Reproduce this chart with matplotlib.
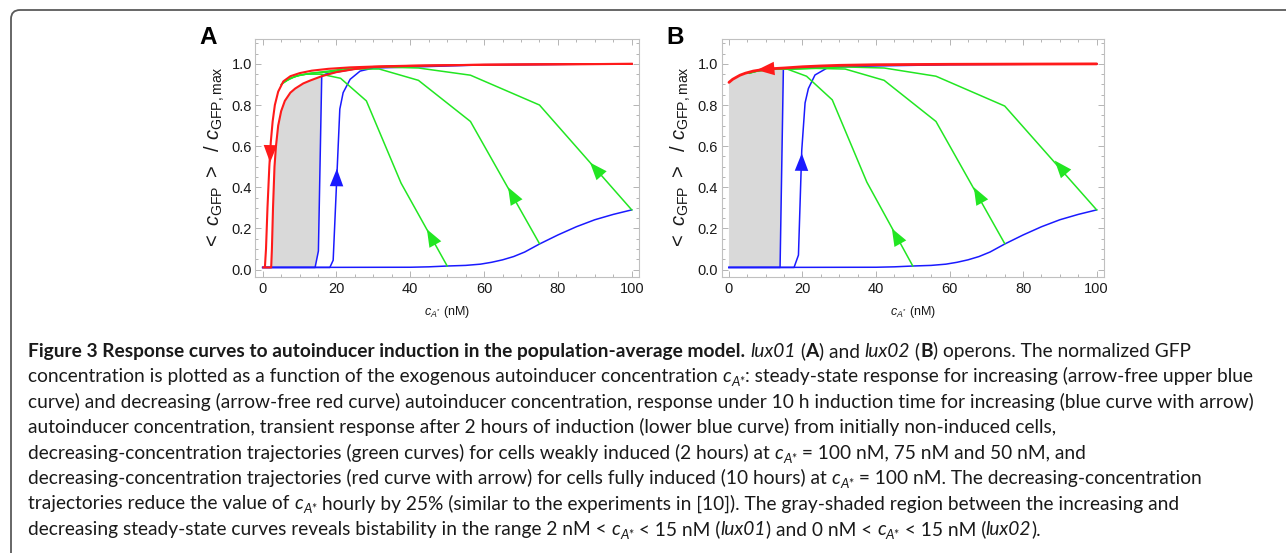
import numpy as np
import matplotlib.pyplot as plt
from matplotlib.patches import FancyBboxPatch
from matplotlib.transforms import IdentityTransform

plt.rcParams['font.family'] = 'Liberation Sans'
plt.rcParams['mathtext.fontset'] = 'custom'
plt.rcParams['mathtext.rm'] = 'Liberation Sans'
plt.rcParams['mathtext.it'] = 'Liberation Sans:italic'
plt.rcParams['mathtext.bf'] = 'Liberation Sans:bold'

W, H = 1286, 553

# ---- data: c_A* (nM) and <c_GFP>/c_GFP,max ----
# lower blue curve (2 h transient), same in both panels
low_x = [0, 40, 45, 50, 55, 59, 62, 65, 68, 71, 75, 80, 85, 90, 95, 100]
low_y = [0.01, 0.011, 0.013, 0.017, 0.02, 0.026, 0.035, 0.047, 0.063, 0.085, 0.124, 0.168, 0.208, 0.242, 0.268, 0.29]

# panel A (lux01)
a_red_out_x = [0.2, 0.6, 0.9, 1.3, 1.8, 2.2, 2.7, 3.3, 4.2, 5.6, 7.5, 10, 13.3, 17.8, 23.7, 31.6, 42.2, 56.3, 75, 100]
a_red_out_y = [0.01, 0.01, 0.1, 0.3, 0.5, 0.62, 0.72, 0.8, 0.865, 0.915, 0.94, 0.955, 0.967, 0.976, 0.983, 0.988, 0.992, 0.995, 0.998, 1.0]
a_red_in_x = [1.0, 2.3, 2.5, 2.8, 3.2, 3.6, 4.2, 5.0, 6.0, 7.5, 8.8, 11, 13, 16, 20, 25, 30, 40, 60, 100]
a_red_in_y = [0.01, 0.01, 0.1, 0.3, 0.5, 0.6, 0.7, 0.77, 0.82, 0.86, 0.88, 0.905, 0.92, 0.94, 0.96, 0.975, 0.985, 0.99, 0.996, 1.0]
a_blue_ss_x = [0, 14.2, 15.1, 16.0, 17, 20, 25, 30, 40, 60, 100]
a_blue_ss_y = [0.01, 0.01, 0.09, 0.94, 0.95, 0.96, 0.975, 0.985, 0.99, 0.996, 1.0]
a_blue_ar_x = [0, 18.2, 19.1, 20.9, 21.8, 23.7, 26.4, 30, 40.8, 60, 100]
a_blue_ar_y = [0.01, 0.01, 0.045, 0.78, 0.86, 0.925, 0.965, 0.98, 0.985, 0.995, 1.0]
a_g1_x = [100, 75, 56.3, 42.2, 31.6, 23.7, 17.8, 13.3, 10, 7.5, 5.6]
a_g1_y = [0.29, 0.80, 0.945, 0.98, 0.985, 0.98, 0.965, 0.955, 0.945, 0.93, 0.91]
a_g2_x = [75, 56.3, 42.2, 31.6, 23.7, 17.8, 13.3, 10, 7.5, 5.6]
a_g2_y = [0.126, 0.72, 0.92, 0.975, 0.975, 0.96, 0.955, 0.945, 0.93, 0.91]
a_g3_x = [50, 37.5, 28.1, 21.1, 15.8, 11.9, 8.9, 6.7, 5.0]
a_g3_y = [0.017, 0.42, 0.82, 0.93, 0.95, 0.95, 0.94, 0.92, 0.9]
a_gray_x = [2.3, 2.5, 2.8, 3.2, 3.6, 4.2, 5.0, 6.0, 7.5, 8.8, 11, 13, 16, 15.1, 14.2]
a_gray_y = [0.01, 0.1, 0.3, 0.5, 0.6, 0.7, 0.77, 0.82, 0.86, 0.88, 0.905, 0.92, 0.94, 0.09, 0.01]

# panel B (lux02)
b_red_x = [0, 1, 2, 3, 4.5, 6.6, 9, 12, 15, 20, 25, 30, 40, 60, 100]
b_red_y = [0.91, 0.925, 0.935, 0.945, 0.955, 0.965, 0.972, 0.977, 0.98, 0.986, 0.99, 0.993, 0.996, 0.998, 1.0]
b_blue_ss_x = [0, 13.9, 14.8, 20, 30, 40, 60, 100]
b_blue_ss_y = [0.01, 0.01, 0.975, 0.98, 0.985, 0.99, 0.996, 1.0]
b_blue_ar_x = [0, 17.7, 18.9, 19.8, 20.7, 21.6, 23.4, 26.6, 30.2, 40, 60, 100]
b_blue_ar_y = [0.01, 0.01, 0.07, 0.58, 0.81, 0.88, 0.946, 0.979, 0.99, 0.995, 0.998, 1.0]
b_g1_x = [100, 75, 56.3, 42.2, 31.6, 23.7, 17.8, 13.3, 10, 7.5, 5.6]
b_g1_y = [0.29, 0.795, 0.94, 0.98, 0.985, 0.98, 0.975, 0.975, 0.97, 0.965, 0.955]
b_g2_x = [75, 56.3, 42.2, 31.6, 23.7, 17.8, 13.3, 10, 7.5, 5.6]
b_g2_y = [0.126, 0.72, 0.92, 0.975, 0.978, 0.975, 0.975, 0.97, 0.965, 0.955]
b_g3_x = [50, 37.5, 28.1, 21.1, 15.8, 11.9, 8.9, 6.7, 5.0]
b_g3_y = [0.017, 0.425, 0.825, 0.94, 0.975, 0.975, 0.97, 0.96, 0.955]
b_gray_x = [0, 0, 1, 2, 3, 4.5, 6.6, 9, 12, 14.8, 13.9]
b_gray_y = [0.01, 0.91, 0.925, 0.935, 0.945, 0.955, 0.965, 0.972, 0.977, 0.975, 0.01]

# arrows: (tail, tip) in data coords
a_arrows = [((2.2, 0.70), (2.0, 0.52), 'red'),
            ((19.8, 0.20), (20.1, 0.49), 'blue'),
            ((50, 0.017), (44.5, 0.196), 'green'),
            ((75, 0.126), (66.5, 0.40), 'green'),
            ((100, 0.29), (88.7, 0.52), 'green')]
b_arrows = [((12, 0.977), (7.6, 0.97), 'red'),
            ((19.5, 0.20), (19.8, 0.565), 'blue'),
            ((50, 0.017), (44.3, 0.20), 'green'),
            ((75, 0.126), (66.6, 0.40), 'green'),
            ((100, 0.29), (88.6, 0.53), 'green')]

x_ticks = [0, 20, 40, 60, 80, 100]
y_ticks = [0.0, 0.2, 0.4, 0.6, 0.8, 1.0]

RED, BLUE, GREEN, GRAY = '#ff1a1a', '#1a1aff', '#22e622', '#d9d9d9'


fig = plt.figure(figsize=(W / 100, H / 100), dpi=100)


def make_axes(left, right, top, bottom):
    ax = fig.add_axes([left / W, 1 - bottom / H, (right - left) / W, (bottom - top) / H])
    ax.set_xlim(-2, 102)
    ax.set_ylim(-0.034, 1.121)
    ax.set_xticks(x_ticks)
    ax.set_yticks(y_ticks)
    ax.set_xticklabels([str(v) for v in x_ticks])
    ax.set_yticklabels(['%.1f' % v for v in y_ticks])
    ax.set_xticks(np.arange(0, 101, 5), minor=True)
    ax.set_yticks(np.arange(0, 1.11, 0.05), minor=True)
    ax.tick_params(which='both', direction='in', top=True, right=True, color='#a8a8a8', width=0.6)
    ax.tick_params(which='major', length=4.5, labelsize=10.5, labelcolor='#1a1a1a')
    ax.tick_params(which='minor', length=2.5)
    ax.tick_params(axis='x', pad=4)
    ax.tick_params(axis='y', pad=2.5)
    for s in ax.spines.values():
        s.set_color('#c0c0c0')
        s.set_linewidth(0.8)
    ax.set_ylabel(r'$<\ c_{\mathrm{GFP}}\ >\ \ /\ c_{\mathrm{GFP,max}}$', fontsize=14.5, color='#1a1a1a')
    ax.yaxis.set_label_coords(-0.075, 0.5)
    ax.set_xlabel(r'$c_{A^{*}}$ (nM)', fontsize=9, color='#1a1a1a', va='top')
    ax.xaxis.set_label_coords(0.5, -0.115)
    return ax


def arrows(ax, lst):
    for tail, tip, c in lst:
        col = {'red': RED, 'blue': BLUE, 'green': GREEN}[c]
        ax.annotate('', xy=tip, xytext=tail,
                    arrowprops=dict(arrowstyle='-|>,head_length=0.7,head_width=0.27',
                                    mutation_scale=18, color=col, lw=0,
                                    shrinkA=0, shrinkB=0))


# panel A
axA = make_axes(255.3, 639.1, 39, 276.5)
axA.fill(a_gray_x, a_gray_y, color=GRAY, lw=0)
axA.plot(low_x, low_y, color=BLUE, lw=1.1)
axA.plot(a_blue_ss_x, a_blue_ss_y, color=BLUE, lw=1.1)
axA.plot(a_blue_ar_x, a_blue_ar_y, color=BLUE, lw=1.1)
for gx, gy in [(a_g1_x, a_g1_y), (a_g2_x, a_g2_y), (a_g3_x, a_g3_y)]:
    axA.plot(gx, gy, color=GREEN, lw=1.1)
axA.plot(a_red_in_x, a_red_in_y, color=RED, lw=1.5)
axA.plot(a_red_out_x, a_red_out_y, color=RED, lw=1.5)
arrows(axA, a_arrows)

# panel B
axB = make_axes(721.6, 1104, 39, 276.5)
axB.fill(b_gray_x, b_gray_y, color=GRAY, lw=0)
axB.plot(low_x, low_y, color=BLUE, lw=1.1)
axB.plot(b_blue_ss_x, b_blue_ss_y, color=BLUE, lw=1.1)
axB.plot(b_blue_ar_x, b_blue_ar_y, color=BLUE, lw=1.1)
for gx, gy in [(b_g1_x, b_g1_y), (b_g2_x, b_g2_y), (b_g3_x, b_g3_y)]:
    axB.plot(gx, gy, color=GREEN, lw=1.1)
axB.plot(b_red_x, b_red_y, color=RED, lw=2.0, solid_capstyle='round')
arrows(axB, b_arrows)

fig.text(208.5 / W, 1 - 38 / H, 'A', fontsize=17.5, fontweight='bold', ha='center', va='center')
fig.text(675 / W, 1 - 38 / H, 'B', fontsize=17.5, fontweight='bold', ha='center', va='center')

# outer frame with rounded corner (runs off right and bottom)
frame = FancyBboxPatch((11, -60), 1400, 543 + 60, boxstyle='round,pad=0,rounding_size=9',
                       transform=IdentityTransform(), fill=False, ec='#5a5a5a', lw=1.3, clip_on=False)
fig.add_artist(frame)

# ---- caption ----
CAP_FONT = 'Lato'
CA = [('c', 'i'), ('A*', 'sub')]
caption = [
    [('Figure 3 Response curves to autoinducer induction in the population-average model.', 'b'),
     (' ', 'r'), ('lux01', 'i'), (' (', 'r'), ('A', 'b'), (') and ', 'r'), ('lux02', 'i'),
     (' (', 'r'), ('B', 'b'), (') operons. The normalized GFP', 'r')],
    [('concentration is plotted as a function of the exogenous autoinducer concentration ', 'r')] + CA +
    [(': steady-state response for increasing (arrow-free upper blue', 'r')],
    [('curve) and decreasing (arrow-free red curve) autoinducer concentration, response under 10 h '
      'induction time for increasing (blue curve with arrow)', 'r')],
    [('autoinducer concentration, transient response after 2 hours of induction (lower blue curve) '
      'from initially non-induced cells,', 'r')],
    [('decreasing-concentration trajectories (green curves) for cells weakly induced (2 hours) at ', 'r')] + CA +
    [(' = 100 nM, 75 nM and 50 nM, and', 'r')],
    [('decreasing-concentration trajectories (red curve with arrow) for cells fully induced (10 hours) at ', 'r')] + CA +
    [(' = 100 nM. The decreasing-concentration', 'r')],
    [('trajectories reduce the value of ', 'r')] + CA +
    [(' hourly by 25% (similar to the experiments in [10]). The gray-shaded region between the increasing and', 'r')],
    [('decreasing steady-state curves reveals bistability in the range 2 nM < ', 'r')] + CA +
    [(' < 15 nM (', 'r'), ('lux01', 'i'), (') and 0 nM < ', 'r')] + CA +
    [(' < 15 nM (', 'r'), ('lux02', 'i'), (').', 'r')],
]

renderer = fig.canvas.get_renderer()


def kw(st, size):
    if st == 'b':
        return dict(fontweight='bold', fontsize=size)
    if st == 'i':
        return dict(fontstyle='italic', fontsize=size)
    if st == 'sub':
        return dict(fontstyle='italic', fontsize=size * 0.7)
    return dict(fontsize=size)


def width(s, st, size):
    t1 = fig.text(0, 0, s + '|', family=CAP_FONT, **kw(st, size))
    t2 = fig.text(0, 0, '|', family=CAP_FONT, **kw(st, size))
    w = t1.get_window_extent(renderer).width - t2.get_window_extent(renderer).width
    t1.remove()
    t2.remove()
    return w


line2_w = sum(width(s, st, 10) for s, st in caption[1])
cap_size = 10 * (1260 - 28) / line2_w

for i, line in enumerate(caption):
    x = 28
    base = 357 + i * 25.4
    for s, st in line:
        dy = 4 if st == 'sub' else 0
        fig.text(x / W, 1 - (base + dy) / H, s, family=CAP_FONT, ha='left', va='baseline',
                 color='#1a1a1a', **kw(st, cap_size))
        x += width(s, st, cap_size)

fig.savefig('out.png', dpi=100)
